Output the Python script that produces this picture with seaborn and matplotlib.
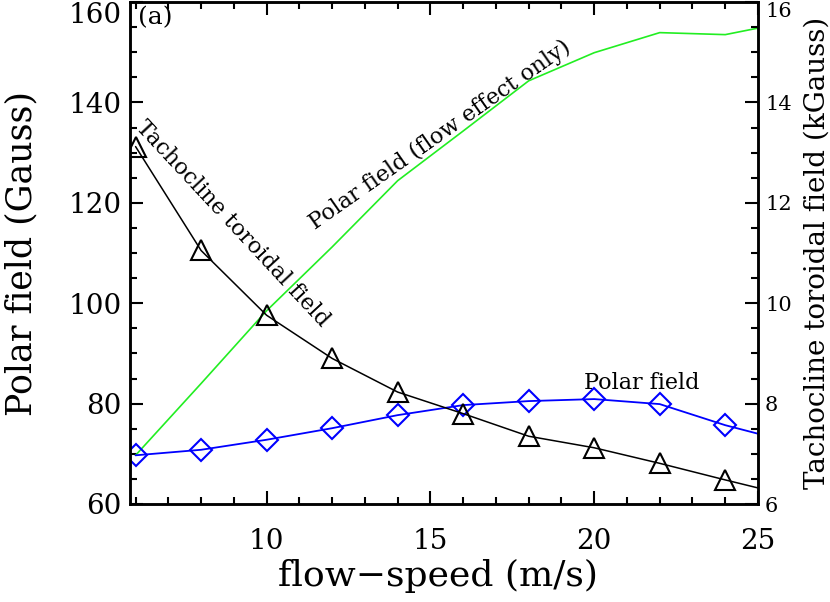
"""Polar field and tachocline toroidal field versus flow speed"""
import matplotlib
matplotlib.use("Agg")
import matplotlib.pyplot as plt
from matplotlib.ticker import MultipleLocator
import seaborn as sns

# flow speed (m/s); last point lies beyond the axis edge
flow_speed = [6, 8, 10, 12, 14, 16, 18, 20, 22, 24, 26]
# polar field (Gauss), with diamonds
polar_field = [69.7, 70.8, 72.8, 75.1, 77.7, 79.7, 80.5, 80.9, 79.9, 75.7, 72.3]
# polar field, flow effect only (Gauss)
polar_flow_only = [69.7, 84.0, 98.5, 111.2, 124.4, 134.3, 144.3, 149.9, 153.9, 153.5, 156.1]
# tachocline toroidal field (kGauss), with triangles
toroidal_field = [13.12, 11.05, 9.76, 8.9, 8.23, 7.8, 7.35, 7.12, 6.81, 6.48, 6.16]


def main():
    sns.set_style("ticks")
    plt.rcParams['font.family'] = ['DejaVu Serif', 'DejaVu Sans']
    for key in ('text.color', 'axes.labelcolor', 'xtick.color', 'ytick.color'):
        plt.rcParams[key] = 'black'

    fig = plt.figure(figsize=(8.3, 6.02), dpi=100)
    ax = fig.add_axes([130 / 830, 98 / 602, 628 / 830, 502 / 602])
    ax2 = ax.twinx()

    marked = slice(0, 10)

    sns.lineplot(x=flow_speed, y=polar_flow_only, ax=ax, color='#22ee22', lw=1.2)
    sns.lineplot(x=flow_speed, y=polar_field, ax=ax, color='#0000ff', lw=1.3,
                 marker='D', markersize=11, markevery=marked,
                 mfc='none', mec='#0000ff', mew=1.5)
    sns.lineplot(x=flow_speed, y=toroidal_field, ax=ax2, color='black', lw=1.1,
                 marker='^', markersize=14, markevery=marked,
                 mfc='none', mec='black', mew=1.5)

    ax.set_xlim(5.83, 25)
    ax.set_ylim(60, 160)
    ax2.set_ylim(6, 16)

    ax.xaxis.set_major_locator(MultipleLocator(5))
    ax.xaxis.set_minor_locator(MultipleLocator(1))
    ax.yaxis.set_major_locator(MultipleLocator(20))
    ax.yaxis.set_minor_locator(MultipleLocator(5))
    ax2.yaxis.set_major_locator(MultipleLocator(2))
    ax2.yaxis.set_minor_locator(MultipleLocator(0.5))

    ax.tick_params(axis='x', which='both', direction='in', top=True, bottom=True,
                   labelsize=20, pad=17)
    ax.tick_params(axis='y', which='both', direction='in', left=True, right=False,
                   labelsize=20, pad=6)
    ax2.tick_params(axis='y', which='both', direction='in', right=True,
                    labelsize=15, pad=5)
    for a in (ax, ax2):
        a.tick_params(which='major', length=9.5, width=1.5, color='black')
        a.tick_params(which='minor', length=5, width=1.5, color='black')
        for sp in a.spines.values():
            sp.set_linewidth(1.8)
            sp.set_color('black')
            sp.set_visible(True)

    ax.set_xlabel("flow\u2212speed (m/s)", fontsize=26)
    ax.xaxis.set_label_coords(0.49, -0.11)
    ax.set_ylabel("Polar field (Gauss)", fontsize=25)
    ax.yaxis.set_label_coords(-0.146, 0.5)
    ax2.set_ylabel("Tachocline toroidal field (kGauss)", fontsize=20)
    ax2.yaxis.set_label_coords(1.072, 0.5)

    ax.text(0.04, 0.968, "(a)", transform=ax.transAxes, fontsize=18,
            ha='center', va='center')
    ax.text(8.96, 115.9, "Tachocline toroidal field", fontsize=16,
            rotation=-47, ha='center', va='center', rotation_mode='anchor')
    ax.text(15.3, 133.5, "Polar field (flow effect only)", fontsize=16,
            rotation=35, ha='center', va='center', rotation_mode='anchor')
    ax.text(21.46, 84.1, "Polar field", fontsize=16, ha='center', va='center')

    # top tick labels sit just below the top edge, as in the original
    fig.canvas.draw()
    for lab in ax.get_yticklabels():
        if lab.get_text() == '160':
            lab.set_va('top')
    for lab in ax2.get_yticklabels():
        if lab.get_text() == '16':
            lab.set_va('top')

    fig.savefig("out.png", dpi=100)


if __name__ == '__main__':
    main()
